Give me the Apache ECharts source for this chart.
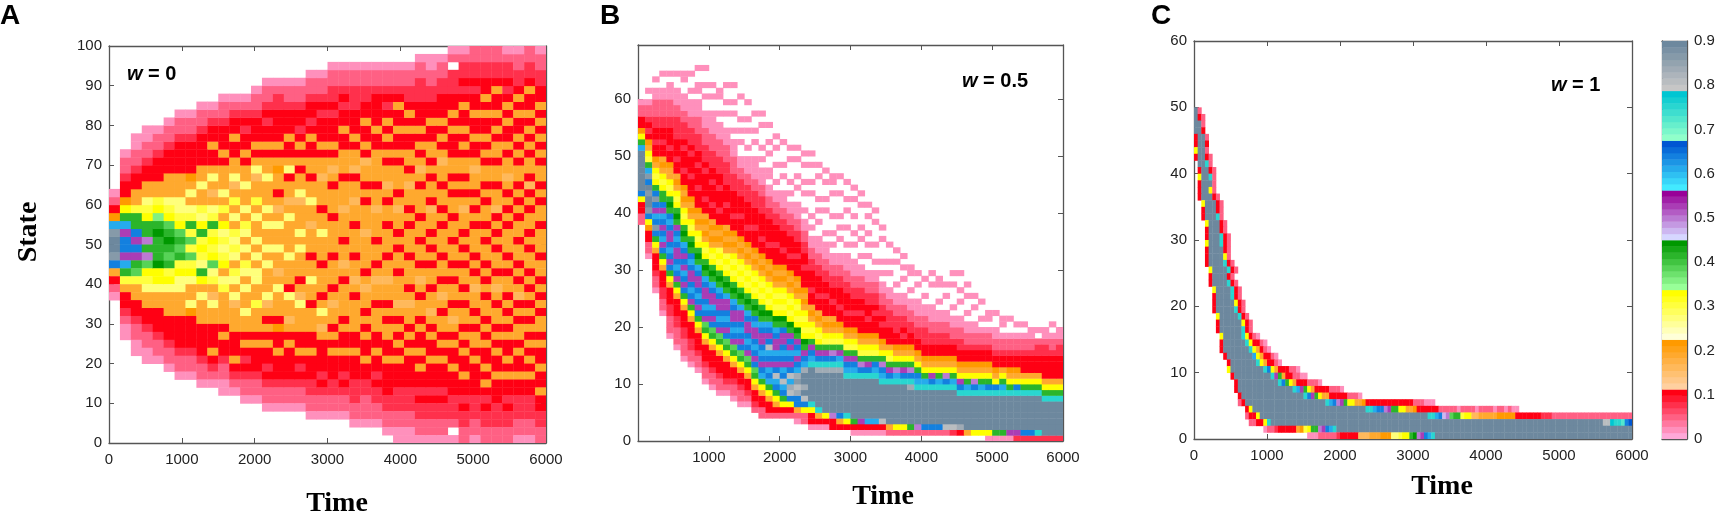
<!DOCTYPE html>
<html>
<head>
<meta charset="utf-8">
<script src="https://cdn.jsdelivr.net/npm/echarts@6/dist/echarts.min.js"></script>
<style>
  html, body { margin: 0; padding: 0; background: #fff; }
  #main { width: 1719px; height: 521px; }
</style>
</head>
<body>
<div id="main"></div>
<script>
// one char per cell: index in levelCodes -> level, '.' = empty cell
// "v*12" means 'v' repeated 12 times
var levelCodes = '0123456789abcdefghijklmnopqrstuv';
var colorMax = 0.9;
var colorTicks = [0, 0.1, 0.2, 0.3, 0.4, 0.5, 0.6, 0.7, 0.8, 0.9];
var timeTicks = [0, 1000, 2000, 3000, 4000, 5000, 6000];

// colorbar bands, light -> dark
var bandColors = [
  ['#ffa8d8', '#ff0014'],
  ['#ffd0a0', '#ff9a00'],
  ['#ffffd8', '#ffff00'],
  ['#98ff98', '#009800'],
  ['#d6d6ff', '#980098'],
  ['#42eaff', '#0056d2'],
  ['#90ffca', '#00c6d2'],
  ['#c6c6c6', '#6d889e']
];

// panel A (w = 0): 150 time units per column, 2 states per cell,
// strings go outwards from state 50 (upper half / lower half)
var upperA = [
  "vul7310", "mileb7332110", "imeea663321100", "heeba9663321100",
  "efecba663332110", "fedba96663332110", "edba9966633332110", "daea9696733332110",
  "aeb9a6696633332110", "baea96569633633210", "a9b6a69666363332110", "9a696a6596633633210",
  "69a6966966363323210", "96696a66596363332110", "669696669663633232110", "669656366763633332210",
  "666965663963363332110", "696665966363632332110", "6656696636633632332110", "6966366656636333232110",
  "66636663656363332322110", "36665666366633633232110", "66366566356636333222110", "65666363665363363322110",
  "36665663666633633332110", "66366365663636363232110", "63665636663633633632110", "66363665636633636322110",
  "366366636563636333222110", "636653663636633633221100", "663636636656363633322110", "3663663636633363633222.10",
  "6366563636636363363232210", "6636363665633633633232211", "3636636366363633636332211", "6363566366366363633632211",
  "6636363656636336363232210", "3663636366363633636322110", "6366363536636363633632211", "6636636366363636363322110"
];
var lowerA = [
  "vum6310", "milea6332100", "mieda663321100", "ehdba9663321100",
  "eefbb9663332110", "edeab96663332110", "deab9966633332110", "adab9669733332110",
  "ba9eb6966633332110", "abd9a6596633363210", "9ab69a6666363321100", "a96a969566633363210",
  "96a96966966363232110", "6969966a666363332110", "969666956363633232110", "966569666373363332110",
  "696663966563633332110", "966636596663363232110", "6366966366633633322110", "6636663696563333232110",
  "6366636566363633322110", "6656366663633633232110", "63665636666336333222110", "66636566363633633221110",
  "66365663666336332322110", "636656636366336333322110", "3663666563636363332221100", "6366636566363633332221100",
  "6636563663633636332322110", "36366366563633633323221100", "6366365636636363332322110", "66363663656363363332221.0",
  "3636636366363633633232211", "6363656636366363333222110", "6636363663636336363232211", "3663656366363633633322211",
  "6363663636363363633232211", "6636365363663633633222110", "3663636363636363633222110", "6366363636636336336332211"
];

// panel B (w = 0.5): 100 time units per column, 1 state per cell, [first state, cells]
var colsB = [
  [38, "1133bmvvvvvvvleb733110"],
  [32, "011337bmuvvuvmuleab673232110.0"],
  [26, "01123336bemumlimumebab67332332211100.0"],
  [22, "011223336bemilmimlimeebab676332332211100..0"],
  [18, "0111223336bemimlmiimlmefebab66733233322111000.0"],
  [16, "0111223336beimlmiimlmiefebab676332333222211000..0"],
  [14, "0111223336bemimlimimlefebab67673323332322211000..00"],
  [13, "011223336beimlmiimlmefebab676733323332322211000.0..0"],
  [12, "01123336bemimlmiimlefebab67673332333233222111000.00..0"],
  [10, "01123336bedimlmiimlefebab67676332333323222111000..0.0..0"],
  [9, "01123336bedmimliimlefebab676763323332332221110000..0.0"],
  [8, "01123336bedimlmiimlefebaba6767332333233222111000.0..00"],
  [8, "0123336bedmimlmiilefebaba6767633323332222111000..0.0..0"],
  [7, "0112336bedimlmiimlefebabab67673323333222111000.0..0.0..0"],
  [6, "0112336bedmimlmiilefebabab676733323332221100..0.0.0...0"],
  [6, "012336bedimlmiimlefebabab6767332333322211000.0..0.0..0"],
  [5, "12336bedmimlmiilmefebabab67673332333222110000..0.0..0"],
  [4, "11336belmimlmiimlefebabab6767332333322211000.0.0...0.0"],
  [4, "1336belmlimlsmimlefbabab67673323333221100.00..0.0..0"],
  [4, "136bemlsmimliimlefbabab67673332333221100.0..0..0.0"],
  [4, "13bemlsmlimlmiimefbabab67673323332211000..0.0...0"],
  [4, "13bmstlsmimlimiefbabab6767332333221100.0.0...0.0"],
  [3, "016mmtsutlmilmiefbabab67673332332211000..0.0..0.0"],
  [3, "11bmsvtvvtlmiefbabab6767333233221100.0..0.0..0.0"],
  [2, "033bqvvvvvvqlmiebab676332333221100.0.0...0.0..0.0"],
  [2, "036qvvvvvvtqmiebab6763323332211000..0.0.0...0.0"],
  [2, "03bvvvvvvvtqmieab6763332332211000.0...0.0..0.0"],
  [2, "33hvvvvvvvtqmheab67633233221100.0.0..0...0.00"],
  [2, "36mvvvvvvvtqlieab67332333221100..0.0.0...0..0"],
  [2, "3bqvvvvvvqlmieab673323332211000.0..0..0.0..0"],
  [1, "03evvvvvvvqlmieab67332332211000..0.0..0..0.0"],
  [1, "03ivvvvvvvqmheab67333233221100.0..0.0...0.0"],
  [1, "03lvvvvvvvqmieab6733233221100..0.0.0..0.0"],
  [1, "03lvvvvvvvqlmeab6733323221100.0..0...0.0"],
  [1, "03svvvvvvqlmheb673323221100.0.0...0.0"],
  [1, "16vvvvvvvqmieab63332221100..0.0..0"],
  [1, "1bvvvvvvvqlheb67332221100.0...0.0"],
  [1, "1bvvvvvvvqmieb67323221100..0.0.0"],
  [1, "1evvvvvvtqmheb6733221100.0..00"],
  [1, "1hvvvvvvqlmeb67332211000..0.0"],
  [1, "1mvvvvvvqleb67332221100.0..0"],
  [1, "1mvvvvvvqmib67332211000...0.0"],
  [1, "1mvvvvvvqleb6733221100.0..00"],
  [1, "1svvvvvvqmhb6733221100..0.0"],
  [1, "2svvvvvvqleb673321100.0...0.0"],
  [1, "3tvvvvvqmib6733221100..0.0..0"],
  [1, "6vvvvvvqleb673321100.0..0.0"],
  [1, "bvvvvvvqmhb673321100..0.0"],
  [1, "bvvvvvvqleb67332110.0..0"],
  [0, "0bvvvvvvqmeb67332110.00"],
  [0, "0evvvvvvqmb673321100..0"],
  [0, "0evvvvvvqleb6332110.00"],
  [0, "0ivvvvvvqeb67332110..0"],
  [0, "2ivvvvvvqmb67332110.0"],
  [0, "2mvvvvvvqeb63332110.0"],
  [0, "2mvvvvvvqeb633321100"],
  [0, "2qvvvvvvqeb6333221.0"],
  [0, "2vvvvvvqeb6333322100"],
  [0, "2vvvvvvqeb633332110.0"],
  [0, "2vvvvvvqeb6333322100"]
];

// panel C (w = 1): 50 time units per column, 1 state per cell, [state, first column, cells]
var rowsC = [
  [49, 0, "v1"], [48, 0, "v31"], [47, 0, "vv1"], [46, 0, "vv3"], [45, 0, "3vv1"],
  [44, 0, "3vv3"], [43, 0, "bvv1"], [42, 0, "3vv31"], [41, 1, "vvq1"], [40, 1, "3vv31"],
  [39, 1, "bvvq1"], [38, 1, "3vvv1"], [37, 1, "3vvb1"], [36, 1, "3vvv31"], [35, 2, "bvvv31"],
  [34, 2, "3vvv31"], [33, 2, "3vvvq1"], [32, 3, "bvvv31"], [31, 3, "3vvv31"], [30, 3, "3vvvq31"],
  [29, 3, "bvvvq31"], [28, 3, "3vvvv31"], [27, 3, "3vvvvb1"], [26, 3, "3vvvvq31"], [25, 4, "bvvvvq31"],
  [24, 4, "3vvvv31"], [23, 4, "3vvvvq31"], [22, 5, "bvvvvq31"], [21, 5, "3vvvvq31"], [20, 5, "3vvvvvb31"],
  [19, 5, "3vvvvvq31"], [18, 6, "bvvvvvq31"], [17, 6, "3vvvvvvb31"], [16, 6, "3vvvvvvq31"], [15, 7, "bvvvvvqb310"],
  [14, 7, "3vvvvvvqb3310"], [13, 7, "3vvvvvvvqb6310"], [12, 8, "3vvvvvvvlb63310"], [11, 9, "3vvvvvvvqb63310"],
  [10, 9, "bv*9qmb6333110"],
  [9, 10, "3v*10qie6331100"],
  [8, 11, "3v*11qmeb63331110"],
  [7, 11, "3v*15qlieb633331110"],
  [6, 12, "3v*17qmieb66333331110"],
  [5, 12, "13v*22qlmhiebb6673333333333333111000"],
  [4, 14, "3bv*31qqlmmhieebb6673333331111101111011110110100"],
  [3, 14, "133bv*46qqlmghdeeabb55666667777733333332221*22"],
  [2, 15, "1133bqv*91ssrqqpmn"],
  [1, 19, "01123333367abeehimlqv*81"],
  [0, 31, "0001111123333355566677799abbefhimlqv*54"]
];

function expand(str) {
  return str.replace(/(.)\*(\d+)/g, function (m, c, n) { return new Array(+n + 1).join(c); });
}
function levelValue(ch) {
  var i = levelCodes.indexOf(ch);
  return i < 0 ? null : (i + 0.5) * colorMax / levelCodes.length;
}

var dataA = [];
upperA.forEach(function (str, j) {
  expand(str).split('').forEach(function (ch, n) {
    var v = levelValue(ch);
    if (v !== null && 50 + 2 * n < 100) dataA.push([150 * j, 50 + 2 * n, v]);
  });
});
lowerA.forEach(function (str, j) {
  expand(str).split('').forEach(function (ch, n) {
    var v = levelValue(ch);
    if (v !== null && 48 - 2 * n >= 0) dataA.push([150 * j, 48 - 2 * n, v]);
  });
});
var dataB = [];
colsB.forEach(function (col, j) {
  expand(col[1]).split('').forEach(function (ch, n) {
    var v = levelValue(ch);
    if (v !== null) dataB.push([100 * j, col[0] + n, v]);
  });
});
var dataC = [];
rowsC.forEach(function (row) {
  expand(row[2]).split('').forEach(function (ch, n) {
    var v = levelValue(ch);
    if (v !== null && row[1] + n < 120) dataC.push([50 * (row[1] + n), row[0], v]);
  });
});

// colormap: 8 shades per band
function mix(c1, c2, f) {
  var a = parseInt(c1.slice(1), 16), b = parseInt(c2.slice(1), 16);
  var r = Math.round(((a >> 16) & 255) * (1 - f) + ((b >> 16) & 255) * f);
  var g = Math.round(((a >> 8) & 255) * (1 - f) + ((b >> 8) & 255) * f);
  var bl = Math.round((a & 255) * (1 - f) + (b & 255) * f);
  return 'rgb(' + r + ',' + g + ',' + bl + ')';
}
var shades = 8;
var nPieces = bandColors.length * shades;
var step = colorMax / nPieces;
var pieces = [];
var dataBar = [];
for (var p = 0; p < nPieces; p++) {
  var band = bandColors[Math.floor(p / shades)];
  var piece = { gte: p * step, lt: (p + 1) * step, color: mix(band[0], band[1], (p % shades) / (shades - 1)) };
  if (p === nPieces - 1) { delete piece.lt; piece.lte = colorMax + 1e-9; }
  pieces.push(piece);
  dataBar.push([0, p * step, (p + 0.5) * step]);
}

function cellRenderer(dt, ds) {
  return function (params, api) {
    var t = api.value(0), s = api.value(1);
    var a = api.coord([t, s + ds]);
    var b = api.coord([t + dt, s]);
    var cs = params.coordSys;
    var rect = echarts.graphic.clipRectByRect(
      { x: a[0], y: a[1], width: b[0] - a[0] + 0.4, height: b[1] - a[1] + 0.4 },
      { x: cs.x, y: cs.y, width: cs.width, height: cs.height });
    if (!rect) return null;
    return { type: 'rect', shape: rect, style: { fill: api.visual('color') } };
  };
}

var axisColor = '#555';
var labelStyle = { fontFamily: 'Liberation Sans', fontSize: 15, color: '#222' };

function makeAxis(gi, pos, min, max, interval, withLabels, fmt, ticks) {
  var isX = pos === 'bottom' || pos === 'top';
  return {
    type: 'value', gridIndex: gi, position: pos, min: min, max: max, interval: interval,
    axisLine: { show: true, onZero: false, lineStyle: { color: axisColor, width: 1.3 } },
    axisTick: { show: ticks !== false, inside: true, length: 5, lineStyle: { color: axisColor, width: 1 } },
    axisLabel: withLabels ? Object.assign({ show: true, margin: isX ? 9 : 7, formatter: fmt }, labelStyle) : { show: false },
    splitLine: { show: false }
  };
}

var plainFmt = function (v) { return String(v); };
var noZeroFmt = function (v) { return v === 0 ? '' : String(v); };
var tensFmt = function (v) { return v % 10 === 0 ? String(v) : ''; };
var barFmt = function (v) {
  var r = Math.round(v * 10) / 10;
  return colorTicks.indexOf(r) < 0 ? '' : (r === 0 ? '0' : r.toFixed(1));
};

var tMax = timeTicks[timeTicks.length - 1];
var tStep = timeTicks[1] - timeTicks[0];

var italicW = { i: { fontStyle: 'italic', fontWeight: 'bold', fontSize: 20, fontFamily: 'Liberation Sans' } };
var letterFont = 'bold 28px "Liberation Sans"';
var titleFont = 'bold 28px "Liberation Serif"';

var option = {
  backgroundColor: '#fff',
  animation: false,
  grid: [
    { left: 109, top: 46, width: 437, height: 397 },
    { left: 638, top: 45, width: 425, height: 396 },
    { left: 1194, top: 41, width: 438, height: 398 },
    { left: 1662, top: 41, width: 25, height: 398 }
  ],
  xAxis: [
    makeAxis(0, 'bottom', 0, tMax, tStep, true, plainFmt),
    makeAxis(0, 'top', 0, tMax, tStep, false),
    makeAxis(1, 'bottom', 0, tMax, tStep, true, noZeroFmt),
    makeAxis(1, 'top', 0, tMax, tStep, false),
    makeAxis(2, 'bottom', 0, tMax, tStep, true, plainFmt),
    makeAxis(2, 'top', 0, tMax, tStep, false),
    makeAxis(3, 'bottom', 0, 1, 1, false, null, false),
    makeAxis(3, 'top', 0, 1, 1, false, null, false)
  ],
  yAxis: [
    makeAxis(0, 'left', 0, 100, 10, true, plainFmt),
    makeAxis(0, 'right', 0, 100, 10, false),
    makeAxis(1, 'left', 0, 69.5, 10, true, tensFmt),
    makeAxis(1, 'right', 0, 69.5, 10, false),
    makeAxis(2, 'left', 0, 60, 10, true, plainFmt),
    makeAxis(2, 'right', 0, 60, 10, false),
    makeAxis(3, 'left', 0, colorMax, 0.1, false, null, false),
    makeAxis(3, 'right', 0, colorMax, 0.1, true, barFmt)
  ],
  visualMap: {
    type: 'piecewise', show: false, dimension: 2,
    seriesIndex: [0, 1, 2, 3], pieces: pieces
  },
  series: [
    { type: 'custom', xAxisIndex: 0, yAxisIndex: 0, renderItem: cellRenderer(150, 2),
      dimensions: ['t', 's', 'v'], encode: { x: 0, y: 1 }, data: dataA, silent: true },
    { type: 'custom', xAxisIndex: 2, yAxisIndex: 2, renderItem: cellRenderer(100, 1),
      dimensions: ['t', 's', 'v'], encode: { x: 0, y: 1 }, data: dataB, silent: true },
    { type: 'custom', xAxisIndex: 4, yAxisIndex: 4, renderItem: cellRenderer(50, 1),
      dimensions: ['t', 's', 'v'], encode: { x: 0, y: 1 }, data: dataC, silent: true },
    { type: 'custom', xAxisIndex: 6, yAxisIndex: 6, renderItem: cellRenderer(1, step),
      dimensions: ['x', 'lo', 'v'], encode: { x: 0, y: 1 }, data: dataBar, silent: true }
  ],
  graphic: [
    { type: 'text', x: 0, y: 16, style: { text: 'A', font: letterFont, fill: '#000', verticalAlign: 'middle' } },
    { type: 'text', x: 600, y: 16, style: { text: 'B', font: letterFont, fill: '#000', verticalAlign: 'middle' } },
    { type: 'text', x: 1151, y: 16, style: { text: 'C', font: letterFont, fill: '#000', verticalAlign: 'middle' } },
    { type: 'text', x: 29, y: 232, rotation: Math.PI / 2,
      style: { text: 'State', font: titleFont, fill: '#000', align: 'center', verticalAlign: 'middle' } },
    { type: 'text', x: 337, y: 504, style: { text: 'Time', font: titleFont, fill: '#000', align: 'center', verticalAlign: 'middle' } },
    { type: 'text', x: 883, y: 497, style: { text: 'Time', font: titleFont, fill: '#000', align: 'center', verticalAlign: 'middle' } },
    { type: 'text', x: 1442, y: 487, style: { text: 'Time', font: titleFont, fill: '#000', align: 'center', verticalAlign: 'middle' } },
    { type: 'text', x: 127, y: 74, style: { text: '{i|w} = 0', font: 'bold 20px "Liberation Sans"', fill: '#000', verticalAlign: 'middle', rich: italicW } },
    { type: 'text', x: 962, y: 81, style: { text: '{i|w} = 0.5', font: 'bold 20px "Liberation Sans"', fill: '#000', verticalAlign: 'middle', rich: italicW } },
    { type: 'text', x: 1551, y: 85, style: { text: '{i|w} = 1', font: 'bold 20px "Liberation Sans"', fill: '#000', verticalAlign: 'middle', rich: italicW } }
  ]
};

var chart = echarts.init(document.getElementById('main'));
chart.setOption(option);
</script>
</body>
</html>
